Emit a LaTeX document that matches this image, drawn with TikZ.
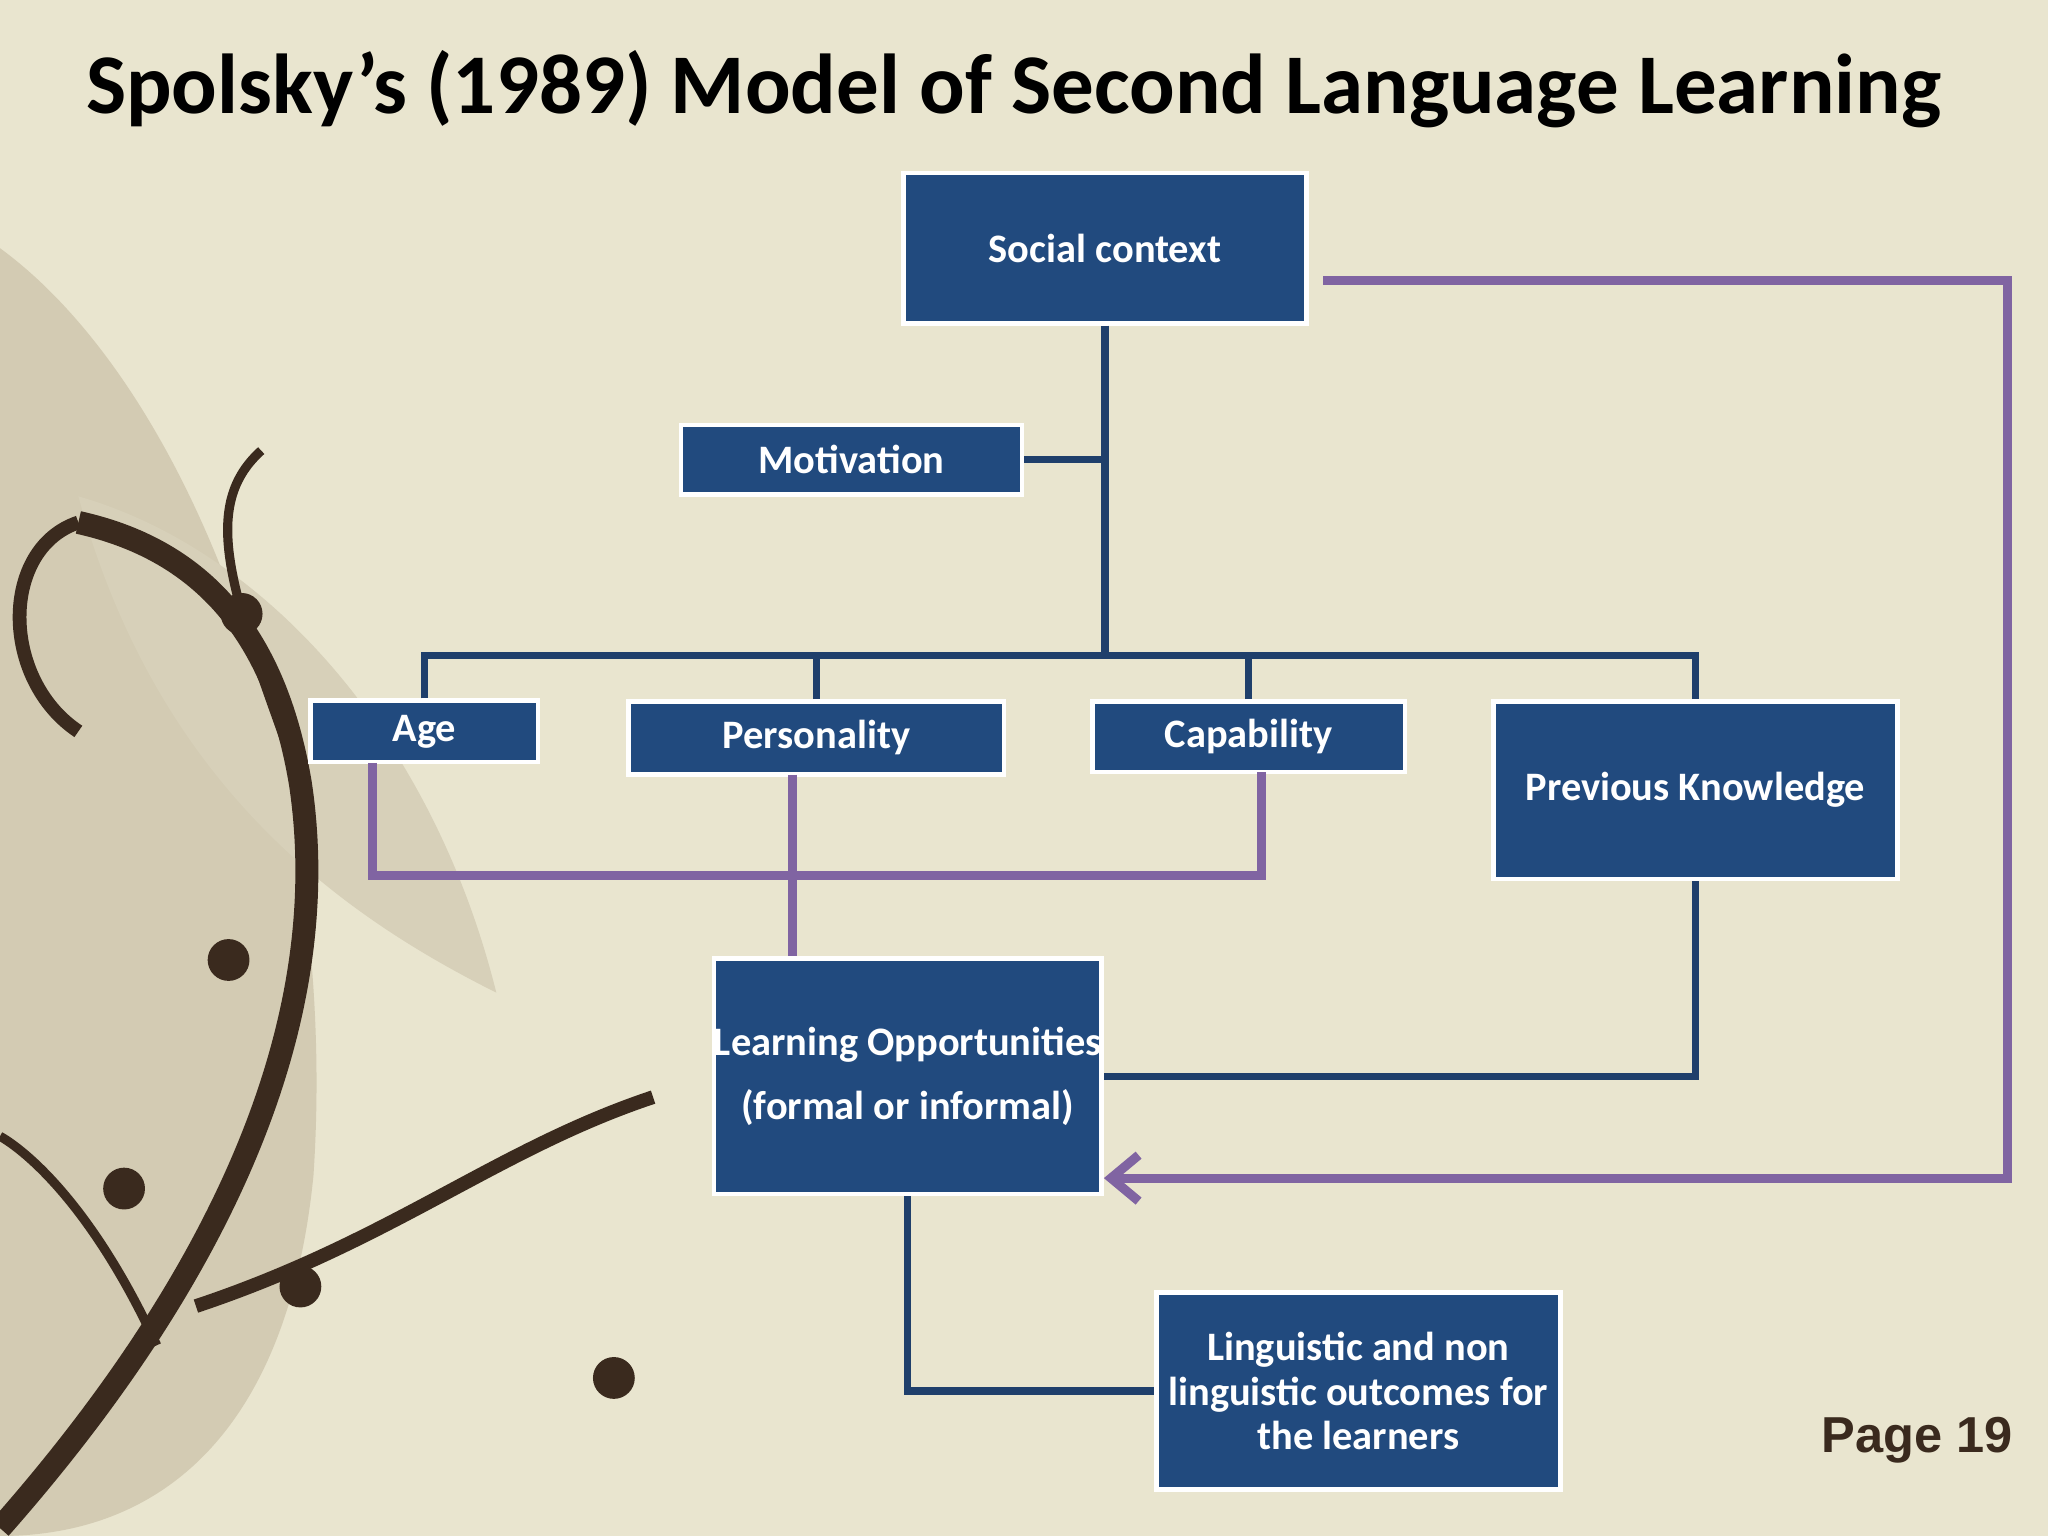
\documentclass[tikz,border=0pt]{standalone}
\usepackage{fontspec}
\setmainfont{Carlito}
\newfontfamily\arialf{Liberation Sans}
\usetikzlibrary{arrows.meta}
\definecolor{bg}{HTML}{E9E5CF}
\definecolor{boxc}{HTML}{214A7E}
\definecolor{navy}{HTML}{1F3F6B}
\definecolor{purp}{HTML}{8064A2}
\definecolor{brn}{HTML}{3A2A1E}
\definecolor{leaf}{HTML}{D3CBB3}
\tikzset{
  bx/.style={draw=white,line width=1pt,fill=boxc,text=white,font=\fontsize{8.8}{9.6}\selectfont\bfseries,align=center,inner sep=0pt},
  nl/.style={draw=navy,line width=1.6pt},
  pl/.style={draw=purp,line width=2pt},
}
\begin{document}
\begin{tikzpicture}[x=0.01cm,y=-0.01cm]
\fill[bg] (0,0) rectangle (1568,1176);
\useasboundingbox (0,0) rectangle (1568,1176);
% decoration
\fill[leaf] (0,190) .. controls (150,300) and (260,600) .. (240,900) .. controls (220,1100) and (120,1176) .. (0,1176) -- cycle;
\fill[leaf!80!bg] (60,380) .. controls (200,420) and (330,560) .. (380,760) .. controls (260,700) and (120,600) .. (60,380) -- cycle;
\draw[brn,line width=5pt] (0,1170) .. controls (150,1000) and (260,800) .. (230,600) .. controls (210,480) and (150,420) .. (60,400);
\draw[brn,line width=3pt] (60,400) .. controls (0,420) and (0,520) .. (60,560);
\draw[brn,line width=3pt] (150,1000) .. controls (300,950) and (380,880) .. (500,840);
\draw[brn,line width=2pt] (120,1030) .. controls (60,900) and (0,870) .. (0,870);
\draw[brn,line width=2pt] (230,600) .. controls (180,460) and (150,390) .. (200,345);
\foreach \p in {(185,470),(175,735),(230,985),(470,1055),(95,910)}
  \fill[brn] \p circle (0.16cm);
% title
\node[font=\fontsize{18.5}{21}\selectfont\bfseries,anchor=center] (title) at (776,68) {Spolsky’s (1989) Model of Second Language Learning};
% boxes
\node[bx,minimum width=3.08cm,minimum height=1.15cm] (soc) at (846,190) {Social context};
\node[bx,minimum width=2.61cm,minimum height=0.53cm] (mot) at (652,352) {Motivation};
\node[bx,minimum width=1.74cm,minimum height=0.47cm] (age) at (325,560) {Age};
\node[bx,minimum width=2.87cm,minimum height=0.56cm] (per) at (625,565) {Personality};
\node[bx,minimum width=2.39cm,minimum height=0.54cm] (cap) at (956,564) {Capability};
\node[bx,minimum width=3.09cm,minimum height=1.36cm] (prev) at (1298,605) {Previous Knowledge};
\node[bx,minimum width=2.96cm,minimum height=1.80cm,font=\fontsize{8.8}{13}\selectfont\bfseries] (lo) at (695,824) {Learning Opportunities\\[1pt](formal or informal)};
\node[bx,minimum width=3.09cm,minimum height=1.51cm] (out) at (1040,1065) {Linguistic and non\\linguistic outcomes for\\the learners};
\node[font=\arialf\fontsize{11}{13}\selectfont\bfseries,text=brn] (pg) at (1468,1103) {Page 19};
% navy connectors
\coordinate (j) at (846,502);
\draw[nl] (soc.south) -- (j);
\draw[nl] (mot.east) -- (846,352);
\draw[nl] (age.north) |- (j) -| (prev.north);
\draw[nl] (per.north) -- (625,502);
\draw[nl] (cap.north) -- (956,502);
\draw[nl] (prev.south) |- (lo.east);
\draw[nl] (lo.south) |- (out.west);
% purple connectors
\draw[pl] (285,584) -- (285,670) -- (966,670) -- (966,591);
\draw[pl] (607,593) -- (lo.north -| 607,0);
\draw[pl,-{Straight Barb[length=6pt,width=10pt]}] (1013,215) -- (1537,215) -- (1537,902) -- (lo.east |- 0,902);
\end{tikzpicture}
\end{document}
